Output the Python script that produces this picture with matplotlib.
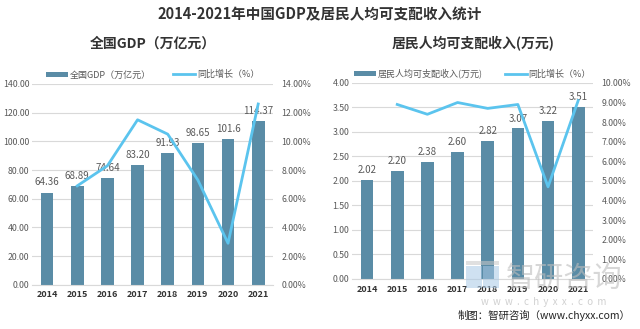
import matplotlib
matplotlib.use("Agg")
import matplotlib.pyplot as plt
from matplotlib.ticker import FuncFormatter
from matplotlib.patches import Rectangle

plt.rcParams['font.family'] = ['Noto Sans CJK SC', 'DejaVu Sans']

years = ['2014', '2015', '2016', '2017', '2018', '2019', '2020', '2021']
gdp = [64.36, 68.89, 74.64, 83.20, 91.93, 98.65, 101.6, 114.37]
gdp_labels = ['64.36', '68.89', '74.64', '83.20', '91.93', '98.65', '101.6', '114.37']
gdp_growth = [None, 6.9, 8.3, 11.5, 10.5, 7.3, 2.9, 12.6]
income = [2.02, 2.20, 2.38, 2.60, 2.82, 3.07, 3.22, 3.51]
income_labels = ['2.02', '2.20', '2.38', '2.60', '2.82', '3.07', '3.22', '3.51']
income_growth = [None, 8.9, 8.4, 9.0, 8.7, 8.9, 4.7, 9.1]

bar_color = '#5a8ca6'
line_color = '#5bc4ee'
txt = '#595959'
grid = '#d9d9d9'

fig = plt.figure(figsize=(6.4, 3.29), dpi=100)
fig.patch.set_facecolor('white')

def panel(rect, vals, labels, growth, ymax, ystep, gmax, gstep, ylfmt, bar_name, sub):
    ax = fig.add_axes(rect)
    x = list(range(len(years)))
    ax.bar(x, vals, width=0.42, color=bar_color, zorder=2, label=bar_name)
    ax.set_xlim(-0.5, len(years) - 0.5)
    ax.set_ylim(0, ymax)
    yt = [i * ystep for i in range(int(round(ymax / ystep)) + 1)]
    ax.set_yticks(yt)
    ax.yaxis.set_major_formatter(FuncFormatter(lambda v, p: ylfmt.format(v)))
    ax.grid(axis='y', color=grid, linewidth=0.8, zorder=0)
    for s in ['top', 'right', 'left']:
        ax.spines[s].set_visible(False)
    ax.spines['bottom'].set_color(grid)
    ax.tick_params(axis='y', length=0, labelsize=6.3, labelcolor=txt, pad=2)
    ax.tick_params(axis='x', length=0, labelsize=6.5, pad=4)
    ax.set_xticks(x)
    ax.set_xticklabels(years, fontweight='bold', color='#333333')
    for xi, v, l in zip(x, vals, labels):
        ax.text(xi, v + ymax * 0.025, l, ha='center', va='bottom', fontsize=7, color=txt, zorder=4)
    ax2 = ax.twinx()
    gx = [xi for xi, g in zip(x, growth) if g is not None]
    gy = [g for g in growth if g is not None]
    ax2.plot(gx, gy, color=line_color, linewidth=2, zorder=3, label='同比增长（%）')
    ax2.set_ylim(0, gmax)
    ax2.set_yticks([i * gstep for i in range(int(round(gmax / gstep)) + 1)])
    ax2.yaxis.set_major_formatter(FuncFormatter(lambda v, p: '{:.2f}%'.format(v)))
    ax2.tick_params(axis='y', length=0, labelsize=6.3, labelcolor=txt, pad=6)
    for s in ['top', 'right', 'left', 'bottom']:
        ax2.spines[s].set_visible(False)
    h1, l1 = ax.get_legend_handles_labels()
    h2, l2 = ax2.get_legend_handles_labels()
    leg = ax.legend(h1 + h2, l1 + l2, loc='lower center', bbox_to_anchor=(0.5, 1.0), ncol=2,
                    frameon=False, fontsize=6.5, handlelength=2.4, handleheight=0.5,
                    columnspacing=2.5, handletextpad=0.2, borderaxespad=0.1)
    for t in leg.get_texts():
        t.set_color(txt)
    fig.text(rect[0] + rect[2] / 2, 0.868, sub, ha='center', va='center', fontsize=10,
             fontweight='bold', color='#333333')
    return ax

panel([0.05, 0.134, 0.377, 0.611], gdp, gdp_labels, gdp_growth, 140, 20, 14, 2,
      '{:.2f}', '全国GDP（万亿元）', '全国GDP（万亿元）')
panel([0.55, 0.152, 0.377, 0.596], income, income_labels, income_growth, 4.0, 0.5, 10, 1,
      '{:.2f}', '居民人均可支配收入(万元)', '居民人均可支配收入(万元)')

fig.text(0.5, 0.955, '2014-2021年中国GDP及居民人均可支配收入统计', ha='center', va='center',
         fontsize=10.5, fontweight='bold', color='#333333')

# watermark logo (simple shapes) and text
for (lx, ly, w, h, c) in [(0.728, 0.125, 0.025, 0.065, '#a9c9e6'),
                          (0.755, 0.125, 0.025, 0.065, '#a9c9e6'),
                          (0.728, 0.195, 0.052, 0.012, '#c8c8c8')]:
    fig.patches.append(Rectangle((lx, ly), w, h, transform=fig.transFigure, facecolor=c,
                                 edgecolor='none', alpha=0.55, zorder=5))
fig.text(0.882, 0.152, '智研咨询', ha='center', va='center', fontsize=21, color='#bdbdbd',
         alpha=0.6, zorder=5)
fig.text(0.85, 0.082, 'w  w  w  .  c  h  y  x  x  .  c  o  m', ha='center', va='center', fontsize=7,
         color='#bdbdbd', alpha=0.7, zorder=5)
fig.text(0.985, 0.04, '制图：智研咨询（www.chyxx.com）', ha='right', va='center', fontsize=7.5,
         color='#222222')

fig.savefig('out.png', dpi=100, facecolor='white')
